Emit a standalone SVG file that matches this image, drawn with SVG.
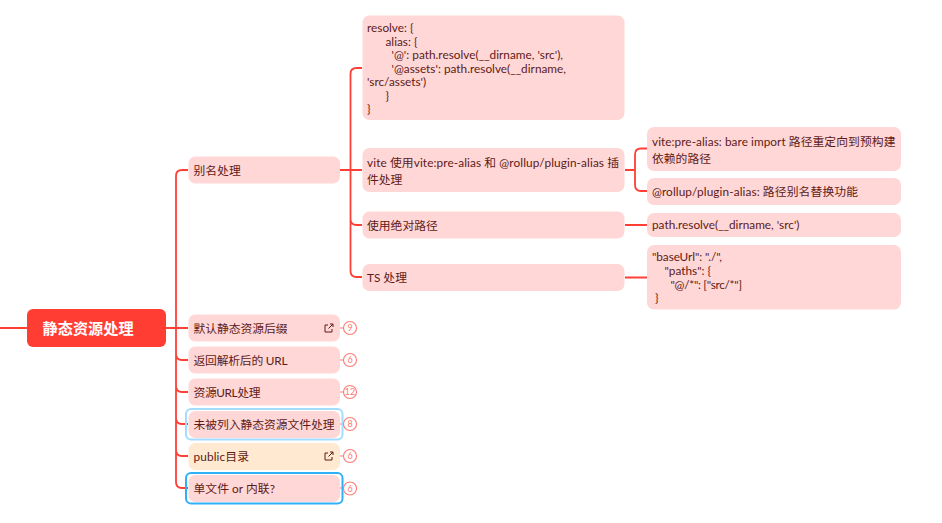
<svg xmlns="http://www.w3.org/2000/svg" width="942" height="523" viewBox="0 0 942 523">
<style>
text{font-family:"Lato","Noto Sans CJK SC",sans-serif;font-size:11.8px;fill:#5e1a17}
.n{fill:#ffd7d6}
.c{fill:none;stroke:#ff3f36;stroke-width:1.8}
.b{fill:#fff;stroke:#ff7a73;stroke-width:1.1}
.bt{font-size:9px;fill:#ff7a73;text-anchor:middle}
.i{fill:none;stroke:#5e1a17;stroke-width:1}
</style>
<defs>
<g id="ext"><path class="i" d="M3.500 1.500H0.500V8.500H7.500V5.500M4 5L8.500 0.500M5.500 0.500H8.500V3.500"/></g>
</defs>
<g id="connectors">
<path class="c" d="M0 328H27M166 328H188M176 328V176Q176 170 182 170H188M176 328V482Q176 488 182 488H188M176 354Q176 360 182 360H188M176 386Q176 392 182 392H188M176 418Q176 424 182 424H188M176 450Q176 456 182 456H188"/>
<path class="c" d="M340 170H362M350.500 170V74Q350.500 68 356.500 68H362M350.500 170V271Q350.500 277 356.500 277H362M350.500 219Q350.500 225 356.500 225H362"/>
<path class="c" d="M625 170H635M647 148.500H641Q635 148.500 635 154.500V185Q635 191 641 191H647M625 225H647M625 277.500H647"/>
<path class="c" style="stroke:#ff7a73;stroke-width:1" d="M340 328H344M340 360H344M340 392H344M340 424H344M340 456H344M340 488H344"/>
</g>
<g id="root"><rect x="27" y="309" width="139" height="38" rx="6" fill="#ff3d33"/><text x="42.500" y="333.500" style="font-size:15.200px;font-weight:700;fill:#fff">静态资源处理</text></g>
<g id="n-alias"><rect class="n" x="188.500" y="156.500" width="151.500" height="27" rx="7"/><text x="193.500" y="174.500">别名处理</text></g>
<g id="n-default"><rect class="n" x="188.500" y="314.500" width="151.500" height="27" rx="7"/><text x="193.500" y="332.500" textLength="94">默认静态资源后缀</text><use href="#ext" x="324.500" y="323.500"/><circle class="b" cx="350" cy="328" r="6.500"/><text class="bt" x="350" y="331">9</text></g>
<g id="n-url"><rect class="n" x="188.500" y="346.500" width="151.500" height="27" rx="7"/><text x="193.500" y="364.500" textLength="94">返回解析后的 URL</text><circle class="b" cx="350" cy="360" r="6.500"/><text class="bt" x="350" y="363">6</text></g>
<g id="n-assets"><rect class="n" x="188.500" y="378.500" width="151.500" height="27" rx="7"/><text x="193.500" y="396.500" textLength="67">资源URL处理</text><circle class="b" cx="350" cy="392" r="6.500"/><text class="bt" x="350" y="395">12</text></g>
<g id="n-unlisted"><rect x="186" y="409" width="156.500" height="30.500" rx="5" fill="none" stroke="#a3dcff" stroke-width="2"/><rect class="n" x="188.500" y="411" width="151.500" height="27" rx="7"/><text x="193.500" y="429" textLength="141">未被列入静态资源文件处理</text><circle class="b" cx="350" cy="424" r="6.500"/><text class="bt" x="350" y="427">8</text></g>
<g id="n-public"><rect x="188.500" y="443" width="151.500" height="27" rx="7" fill="#ffe9d0"/><text x="193.500" y="461" textLength="55.500">public目录</text><use href="#ext" x="324.500" y="451.500"/><circle class="b" cx="350" cy="456" r="6.500"/><text class="bt" x="350" y="459">6</text></g>
<g id="n-single"><rect x="186" y="473" width="156.500" height="30.500" rx="5" fill="none" stroke="#2fb0f7" stroke-width="2"/><rect class="n" x="188.500" y="475" width="151.500" height="27" rx="7"/><text x="193.500" y="493" textLength="81.500">单文件 or 内联?</text><circle class="b" cx="350" cy="488.500" r="6.500"/><text class="bt" x="350" y="491.500">6</text></g>
<g id="n-resolve"><rect class="n" x="362.500" y="15.500" width="262" height="104.500" rx="7"/><text x="367" y="32">resolve: {</text><text x="385.500" y="45.500">alias: {</text><text x="391.500" y="59" textLength="171.500">'@': path.resolve(__dirname, 'src'),</text><text x="391.500" y="72.500" textLength="174.500">'@assets': path.resolve(__dirname,</text><text x="367" y="86">'src/assets')</text><text x="385.500" y="99.500">}</text><text x="367" y="113">}</text></g>
<g id="n-vite"><rect class="n" x="362.500" y="148" width="262" height="44" rx="7"/><text x="367" y="166.500" textLength="252">vite 使用vite:pre-alias 和 @rollup/plugin-alias 插</text><text x="367" y="183.500">件处理</text></g>
<g id="n-abs"><rect class="n" x="362.500" y="211.500" width="262" height="27" rx="7"/><text x="367" y="229.500">使用绝对路径</text></g>
<g id="n-ts"><rect class="n" x="362.500" y="264" width="262" height="27" rx="7"/><text x="367" y="282">TS 处理</text></g>
<g id="n-prealias"><rect class="n" x="647" y="127" width="254" height="44" rx="7"/><text x="652" y="145.500" textLength="243.500">vite:pre-alias: bare import 路径重定向到预构建</text><text x="652" y="162.500">依赖的路径</text></g>
<g id="n-rollup"><rect class="n" x="647" y="178" width="254" height="27" rx="7"/><text x="652" y="195.500" textLength="206">@rollup/plugin-alias: 路径别名替换功能</text></g>
<g id="n-path"><rect class="n" x="647" y="213" width="254" height="24" rx="7"/><text x="652" y="229">path.resolve(__dirname, 'src')</text></g>
<g id="n-base"><rect class="n" x="647" y="245" width="254" height="64.500" rx="7"/><text x="652" y="261" textLength="70">"baseUrl": "./",</text><text x="664.500" y="275">"paths": {</text><text x="670.500" y="288.500" textLength="71.500">"@/*": ["src/*"]</text><text x="655" y="302">}</text></g>
</svg>
